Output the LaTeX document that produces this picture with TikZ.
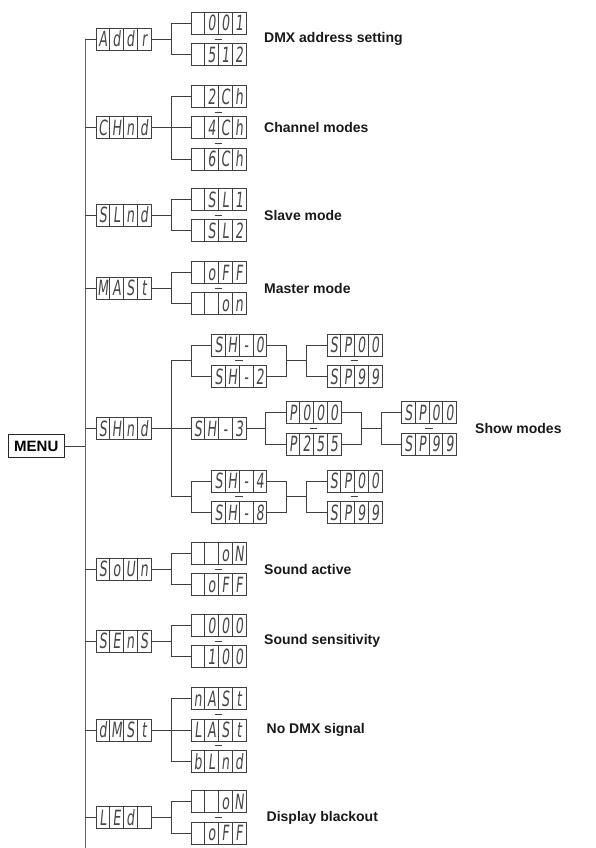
\documentclass[tikz,border=0pt]{standalone}
\usepackage{fontspec}
\setmainfont{Liberation Sans}
\newfontfamily\segfont{DejaVu Sans}[FakeStretch=0.6,FakeSlant=0.1]
\usetikzlibrary{calc}
\newcommand\cells[4]{\makebox[13.75pt]{#1}\makebox[13.75pt]{#2}\makebox[13.75pt]{#3}\makebox[13.75pt]{#4}}

\begin{document}
\begin{tikzpicture}[x=1pt,y=-1pt,
  wire/.style={draw=black!75,line width=0.85pt},
  tick/.style={draw=black!75,line width=0.85pt},
  disp/.style={draw=black!75,line width=0.85pt,minimum width=55pt,minimum height=22pt,
    inner sep=0pt,text height=15.4pt,text depth=0pt,text=black!72,
    font=\segfont\fontsize{21pt}{21pt}\selectfont,
    path picture={\foreach \k in {1,2,3}
      \draw[black!75,line width=0.85pt]
        ($(path picture bounding box.south west)!\k/4!(path picture bounding box.south east)$)
        -- ($(path picture bounding box.north west)!\k/4!(path picture bounding box.north east)$);}},
  lbl/.style={anchor=west,inner sep=0pt,text=black!90,font=\bfseries\fontsize{14pt}{16pt}\selectfont}]
\useasboundingbox (0,0) rectangle (595,848);

% main trunk and menu
\coordinate (top) at (85,39);
\coordinate (bot) at (85,848);
\draw[wire,draw=black!62] (top) -- (bot);
\node[draw=black!85,line width=1.2pt,minimum width=56pt,minimum height=22.5pt,inner sep=0pt,
  font=\bfseries\fontsize{15pt}{18pt}\selectfont] (menu) at (36.3,446) {MENU};
\draw[wire] (menu.east) -- (menu.east -| top);

% fork columns
\coordinate (k1) at (171,0);
\coordinate (k2) at (191,0);
\coordinate (k3) at (286,0);
\coordinate (k4) at (306.7,0);
\coordinate (k5) at (265.5,0);
\coordinate (k6) at (361.7,0);
\coordinate (k7) at (381.7,0);

% first level
\node[disp] (addr) at (123.5,39) {\cells Addr};
\node[disp] (chnd) at (123.5,127.8) {\cells CHnd};
\node[disp] (slnd) at (123.5,215) {\cells SLnd};
\node[disp] (mast) at (123.5,288) {\cells MASt};
\node[disp] (shnd) at (123.5,428.5) {\cells SHnd};
\node[disp] (soun) at (123.5,569) {\cells SoUn};
\node[disp] (sens) at (123.5,641) {\cells SEnS};
\node[disp] (dmst) at (123.5,730) {\cells dMSt};
\node[disp] (led) at (123.5,817.5) {\cells LEd{}};
\foreach \n in {addr,chnd,slnd,mast,shnd,soun,sens,dmst,led}
  \draw[wire] (\n.west -| top) -- (\n.west);

% DMX address
\node[disp] (adr1) at (218.5,23.3) {\cells{}001};
\node[disp] (adr2) at (218.5,54.7) {\cells{}512};
\draw[wire] (addr.east) -- (addr.east -| k1);
\draw[wire] (adr1.west) -- (adr1.west -| k1) -- (adr2.west -| k1) -- (adr2.west);
\draw[tick] ($(adr1.south)!0.5!(adr2.north)$) ++(-3.8,0) -- ++(7.6,0);
\node[lbl] (tadr) at (264,39) {DMX address setting};

% channel modes
\node[disp] (ch2) at (218.5,96.4) {\cells{}2Ch};
\node[disp] (ch4) at (218.5,127.8) {\cells{}4Ch};
\node[disp] (ch6) at (218.5,159.2) {\cells{}6Ch};
\draw[wire] (chnd.east) -- (ch4.west);
\draw[wire] (ch2.west) -- (ch2.west -| k1) -- (ch6.west -| k1) -- (ch6.west);
\draw[tick] ($(ch2.south)!0.5!(ch4.north)$) ++(-3.8,0) -- ++(7.6,0);
\draw[tick] ($(ch4.south)!0.5!(ch6.north)$) ++(-3.8,0) -- ++(7.6,0);
\node[lbl] (tch) at (264,127.8) {Channel modes};

% slave mode
\node[disp] (sl1) at (218.5,199.3) {\cells{}SL1};
\node[disp] (sl2) at (218.5,230.7) {\cells{}SL2};
\draw[wire] (slnd.east) -- (slnd.east -| k1);
\draw[wire] (sl1.west) -- (sl1.west -| k1) -- (sl2.west -| k1) -- (sl2.west);
\draw[tick] ($(sl1.south)!0.5!(sl2.north)$) ++(-3.8,0) -- ++(7.6,0);
\node[lbl] (tsl) at (264,215) {Slave mode};

% master mode
\node[disp] (ms1) at (218.5,272.3) {\cells{}oFF};
\node[disp] (ms2) at (218.5,303.7) {\cells{}{}on};
\draw[wire] (mast.east) -- (mast.east -| k1);
\draw[wire] (ms1.west) -- (ms1.west -| k1) -- (ms2.west -| k1) -- (ms2.west);
\draw[tick] ($(ms1.south)!0.5!(ms2.north)$) ++(-3.8,0) -- ++(7.6,0);
\node[lbl] (tms) at (264,288) {Master mode};

% show modes
\node[disp] (sh0) at (239.25,345) {\cells SH-0};
\node[disp] (sh2) at (239.25,376.5) {\cells SH-2};
\node[disp] (sh3) at (218.5,428.5) {\cells SH-3};
\node[disp] (sh4) at (239.25,481) {\cells SH-4};
\node[disp] (sh8) at (239.25,512.5) {\cells SH-8};
\node[disp] (spa0) at (354.5,345) {\cells SP00};
\node[disp] (spa9) at (354.5,376.5) {\cells SP99};
\node[disp] (pp0) at (313.5,412.8) {\cells P000};
\node[disp] (pp2) at (313.5,444.2) {\cells P255};
\node[disp] (spb0) at (429,412.8) {\cells SP00};
\node[disp] (spb9) at (429,444.2) {\cells SP99};
\node[disp] (spc0) at (354.5,481) {\cells SP00};
\node[disp] (spc9) at (354.5,512.5) {\cells SP99};
\coordinate (ma) at ($(sh0.west)!0.5!(sh2.west)$);
\coordinate (mb) at ($(sh4.west)!0.5!(sh8.west)$);
\coordinate (mc) at ($(pp0.east)!0.5!(pp2.east)$);
\draw[wire] (shnd.east) -- (sh3.west);
\draw[wire] (ma -| k1) -- (mb -| k1);
\draw[wire] (ma -| k1) -- (ma -| k2);
\draw[wire] (mb -| k1) -- (mb -| k2);
\draw[wire] (sh0.west) -- (sh0.west -| k2) -- (sh2.west -| k2) -- (sh2.west);
\draw[wire] (sh4.west) -- (sh4.west -| k2) -- (sh8.west -| k2) -- (sh8.west);
\draw[wire] (sh0.east) -- (sh0.east -| k3) -- (sh2.east -| k3) -- (sh2.east);
\draw[wire] (sh4.east) -- (sh4.east -| k3) -- (sh8.east -| k3) -- (sh8.east);
\draw[wire] (ma -| k3) -- (ma -| k4);
\draw[wire] (mb -| k3) -- (mb -| k4);
\draw[wire] (spa0.west) -- (spa0.west -| k4) -- (spa9.west -| k4) -- (spa9.west);
\draw[wire] (spc0.west) -- (spc0.west -| k4) -- (spc9.west -| k4) -- (spc9.west);
\draw[wire] (sh3.east) -- (sh3.east -| k5);
\draw[wire] (pp0.west) -- (pp0.west -| k5) -- (pp2.west -| k5) -- (pp2.west);
\draw[wire] (pp0.east) -- (pp0.east -| k6) -- (pp2.east -| k6) -- (pp2.east);
\draw[wire] (mc -| k6) -- (mc -| k7);
\draw[wire] (spb0.west) -- (spb0.west -| k7) -- (spb9.west -| k7) -- (spb9.west);
\draw[tick] ($(sh0.south)!0.5!(sh2.north)$) ++(-3.8,0) -- ++(7.6,0);
\draw[tick] ($(sh4.south)!0.5!(sh8.north)$) ++(-3.8,0) -- ++(7.6,0);
\draw[tick] ($(spa0.south)!0.5!(spa9.north)$) ++(-3.8,0) -- ++(7.6,0);
\draw[tick] ($(spc0.south)!0.5!(spc9.north)$) ++(-3.8,0) -- ++(7.6,0);
\draw[tick] ($(pp0.south)!0.5!(pp2.north)$) ++(-3.8,0) -- ++(7.6,0);
\draw[tick] ($(spb0.south)!0.5!(spb9.north)$) ++(-3.8,0) -- ++(7.6,0);
\node[lbl] (tsh) at (475,428.5) {Show modes};

% sound active
\node[disp] (so1) at (218.5,553.3) {\cells{}{}oN};
\node[disp] (so2) at (218.5,584.7) {\cells{}oFF};
\draw[wire] (soun.east) -- (soun.east -| k1);
\draw[wire] (so1.west) -- (so1.west -| k1) -- (so2.west -| k1) -- (so2.west);
\draw[tick] ($(so1.south)!0.5!(so2.north)$) ++(-3.8,0) -- ++(7.6,0);
\node[lbl] (tso) at (264,569) {Sound active};

% sound sensitivity
\node[disp] (se1) at (218.5,625.3) {\cells{}000};
\node[disp] (se2) at (218.5,656.7) {\cells{}100};
\draw[wire] (sens.east) -- (sens.east -| k1);
\draw[wire] (se1.west) -- (se1.west -| k1) -- (se2.west -| k1) -- (se2.west);
\draw[tick] ($(se1.south)!0.5!(se2.north)$) ++(-3.8,0) -- ++(7.6,0);
\node[lbl] (tse) at (264,641) {Sound sensitivity};

% no dmx signal
\node[disp] (dm1) at (218.5,698.6) {\cells nASt};
\node[disp] (dm2) at (218.5,730) {\cells LASt};
\node[disp] (dm3) at (218.5,761.4) {\cells bLnd};
\draw[wire] (dmst.east) -- (dm2.west);
\draw[wire] (dm1.west) -- (dm1.west -| k1) -- (dm3.west -| k1) -- (dm3.west);
\draw[tick] ($(dm1.south)!0.5!(dm2.north)$) ++(-3.8,0) -- ++(7.6,0);
\draw[tick] ($(dm2.south)!0.5!(dm3.north)$) ++(-3.8,0) -- ++(7.6,0);
\node[lbl] (tdm) at (266.5,730) {No DMX signal};

% display blackout
\node[disp] (le1) at (218.5,801.8) {\cells{}{}oN};
\node[disp] (le2) at (218.5,833.2) {\cells{}oFF};
\draw[wire] (led.east) -- (led.east -| k1);
\draw[wire] (le1.west) -- (le1.west -| k1) -- (le2.west -| k1) -- (le2.west);
\draw[tick] ($(le1.south)!0.5!(le2.north)$) ++(-3.8,0) -- ++(7.6,0);
\node[lbl] (tle) at (266.5,817.5) {Display blackout};
\end{tikzpicture}
\end{document}
